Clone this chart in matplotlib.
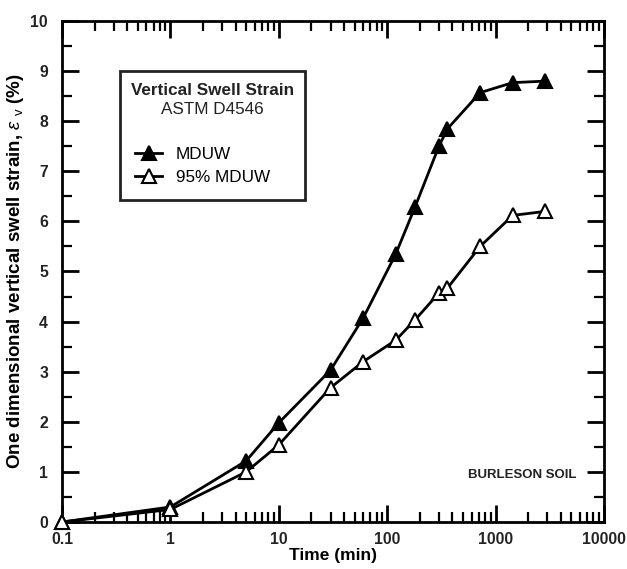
import numpy as np
import matplotlib
matplotlib.use('Agg')
import matplotlib.pyplot as plt
from matplotlib.patches import Rectangle
from matplotlib.ticker import LogLocator, FixedLocator, MultipleLocator, FuncFormatter

plt.rcParams['font.family'] = ['Liberation Sans', 'DejaVu Sans']
plt.rcParams['mathtext.fontset'] = 'custom'
plt.rcParams['mathtext.rm'] = 'Liberation Sans'
plt.rcParams['mathtext.it'] = 'Liberation Sans:italic'
plt.rcParams['mathtext.bf'] = 'Liberation Sans:bold'

# time (min)
time_mduw = [0.1, 1, 5, 10, 30, 60, 120, 180, 300, 360, 720, 1440, 2880]
strain_mduw = [0.0, 0.3, 1.22, 1.98, 3.03, 4.07, 5.35, 6.28, 7.5, 7.85, 8.57, 8.77, 8.8]

time_95 = [0.1, 1, 5, 10, 30, 60, 120, 180, 300, 360, 720, 1440, 2880]
strain_95 = [0.0, 0.25, 1.0, 1.54, 2.68, 3.2, 3.63, 4.03, 4.57, 4.67, 5.5, 6.12, 6.2]

xticks = [0.1, 1, 10, 100, 1000, 10000]
xtick_labels = ['0.1', '1', '10', '100', '1000', '10000']

fig = plt.figure(figsize=(6.27, 5.69), dpi=100)
ax = fig.add_axes([0.0989, 0.0826, 0.8644, 0.8805])

ax.plot(time_mduw, strain_mduw, color='black', lw=2, marker='^', ms=10,
        mfc='black', mec='black', mew=1.5, label='MDUW', clip_on=False, zorder=3)
ax.plot(time_95, strain_95, color='black', lw=2, marker='^', ms=10,
        mfc='white', mec='black', mew=1.5, label='95% MDUW', clip_on=False, zorder=3)

ax.set_xscale('log')
ax.set_xlim(0.1, 10000)
ax.set_ylim(0, 10)
ax.xaxis.set_major_locator(FixedLocator(xticks))
ax.xaxis.set_major_formatter(FuncFormatter(lambda v, p: xtick_labels[xticks.index(v)] if v in xticks else ''))
ax.xaxis.set_minor_locator(LogLocator(base=10, subs=np.arange(2, 10)))
ax.xaxis.set_minor_formatter(FuncFormatter(lambda v, p: ''))
ax.yaxis.set_major_locator(MultipleLocator(1))
ax.yaxis.set_minor_locator(MultipleLocator(0.5))

for s in ax.spines.values():
    s.set_linewidth(2)
ax.tick_params(which='major', direction='in', length=12, width=2, top=True, right=True,
               labelsize=11.3)
ax.tick_params(which='minor', direction='in', length=7, width=1.6, top=True, right=True)
ax.tick_params(axis='x', which='major', pad=7)
ax.tick_params(axis='y', which='major', pad=10)
for lab in ax.get_xticklabels() + ax.get_yticklabels():
    lab.set_fontweight('bold')
    lab.set_color('#222222')

ax.set_xlabel('Time (min)', fontsize=12.5, fontweight='bold', labelpad=1)
ax.set_ylabel(r'One dimensional vertical swell strain, $\varepsilon$ $_{\rm v}$ (%)',
              fontsize=13.5, fontweight='bold', labelpad=3)

# legend box
x0 = (120 - 62) / 542
x1 = (305 - 62) / 542
y0 = (522 - 200) / 501
y1 = (522 - 71) / 501
ax.add_patch(Rectangle((x0, y0), x1 - x0, y1 - y0, transform=ax.transAxes,
                       fill=False, lw=2, ec='#222222', zorder=4))
xc = (x0 + x1) / 2
ax.text(xc, (522 - 91) / 501, 'Vertical Swell Strain', transform=ax.transAxes,
        ha='center', va='center', fontsize=12.3, fontweight='bold', color='#222222')
ax.text(xc, (522 - 110) / 501, 'ASTM D4546', transform=ax.transAxes,
        ha='center', va='center', fontsize=12.3, color='#222222')
ax.legend(loc='upper left', bbox_to_anchor=((128 - 62) / 542, (522 - 140) / 501),
          frameon=False, fontsize=12.3, handlelength=1.6, handletextpad=0.8,
          labelspacing=0.45, borderaxespad=0)

ax.text(0.95, (522 - 475) / 501, 'BURLESON SOIL', transform=ax.transAxes,
        ha='right', va='center', fontsize=9.5, fontweight='bold', color='#222222')

fig.savefig('out.png', dpi=100)
